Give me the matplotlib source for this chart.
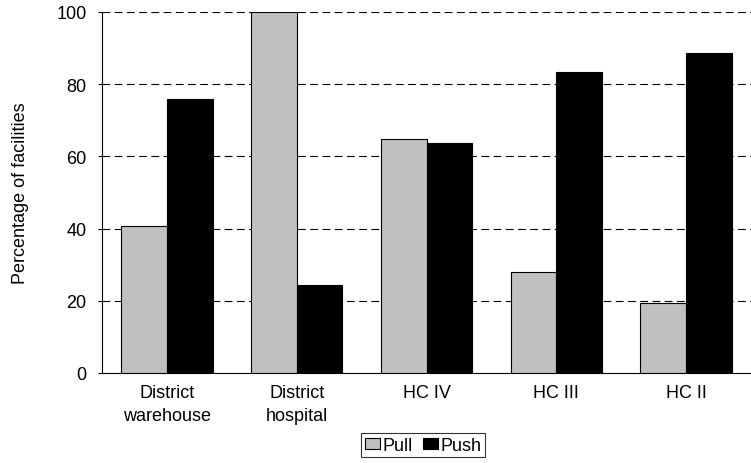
import matplotlib
matplotlib.use("Agg")
import matplotlib.pyplot as plt
import numpy as np

plt.rcParams['font.family'] = ['Liberation Sans', 'DejaVu Sans']

categories = ["District\nwarehouse", "District\nhospital", "HC IV", "HC III", "HC II"]
pull = [40.6, 100.0, 64.7, 28.0, 19.3]
push = [76.0, 24.5, 63.8, 83.3, 88.7]
yticks = [0, 20, 40, 60, 80, 100]

fig = plt.figure(figsize=(7.51, 4.64), dpi=100)
ax = fig.add_axes([102/751, 90/464, 649/751, 361/464])

x = np.arange(len(categories))
w = 0.352
ax.bar(x - w/2, pull, w, color="#c0c0c0", edgecolor="black", linewidth=0.8, label="Pull", zorder=3)
ax.bar(x + w/2, push, w, color="black", edgecolor="black", linewidth=0.8, label="Push", zorder=3)

ax.set_xlim(-0.5, len(categories) - 0.5)
ax.set_ylim(0, 100)
ax.set_yticks(yticks)
ax.set_xticks(x)
ax.set_xticklabels(categories, fontsize=13, linespacing=1.42)
ax.tick_params(axis='x', length=0, pad=8)
ax.tick_params(axis='y', length=3, width=0.8, labelsize=13, pad=8)
for yv in yticks[1:]:
    ax.axhline(yv, color="black", linestyle=(0, (7, 4)), linewidth=0.8, zorder=1)
ax.spines['top'].set_visible(False)
ax.spines['right'].set_visible(False)
ax.spines['left'].set_linewidth(0.8)
ax.spines['bottom'].set_linewidth(0.8)
ax.set_ylabel("Percentage of facilities", fontsize=13, labelpad=20)

leg = ax.legend(loc="upper center", bbox_to_anchor=(0.495, -0.166), ncol=2, fontsize=13,
                frameon=True, fancybox=False, edgecolor="black", handlelength=0.8,
                handleheight=0.55, handletextpad=0.15, columnspacing=0.6, borderpad=0.2,
                borderaxespad=0)
leg.get_frame().set_linewidth(0.8)

fig.savefig("out.png", dpi=100)
